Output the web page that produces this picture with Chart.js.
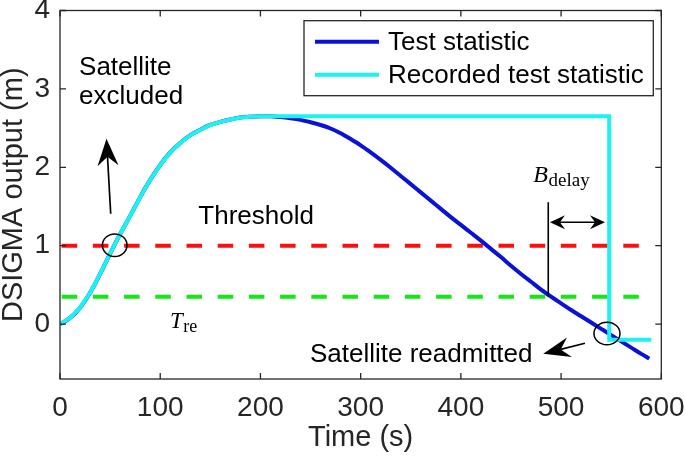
<!DOCTYPE html>
<html><head><meta charset="utf-8">
<script src="https://cdn.jsdelivr.net/npm/chart.js@4/dist/chart.umd.min.js"></script>
<style>html,body{margin:0;padding:0;background:#fff;}#wrap{width:685px;height:458px;position:relative;}</style>
</head><body><div id="wrap"><canvas id="c"></canvas></div>
<script>
// ---- data ----
const timeS = [0,10,20,30,40,50,60,70,80,90,100,110,120,130,140,150,160,170,180,190,200,210,220,230,240,250,260,270,280,290,300,310,320,330,340,350,360,370,380,390,400,410,420,430,440,450,460,470,480,490,500,510,520,530,540,550,560,570,580,588];
const testStat = [0,0.08,0.21,0.40,0.64,0.90,1.15,1.38,1.62,1.84,2.03,2.19,2.31,2.41,2.48,2.54,2.58,2.61,2.635,2.645,2.65,2.65,2.64,2.625,2.605,2.575,2.54,2.495,2.435,2.36,2.28,2.19,2.095,1.995,1.89,1.785,1.68,1.575,1.47,1.365,1.265,1.165,1.065,0.96,0.855,0.745,0.64,0.54,0.44,0.35,0.265,0.18,0.10,0.02,-0.06,-0.14,-0.22,-0.30,-0.38,-0.44];
const recTime = [0,10,20,30,40,50,60,70,80,90,100,110,120,130,140,150,160,170,180,190,200,548,548,590];
const recStat = [0,0.08,0.21,0.40,0.64,0.90,1.15,1.38,1.62,1.84,2.03,2.19,2.31,2.41,2.48,2.54,2.58,2.61,2.635,2.645,2.65,2.65,-0.2,-0.2];
const thresholdTime = [0,590];
const exclusionThreshold = [1,1];
const readmissionThreshold = [0.35,0.35];
const xTickValues = [0,100,200,300,400,500,600];
const yTickValues = [0,1,2,3,4];
const seriesNames = ['Test statistic','Recorded test statistic'];

function pts(xs, ys){ return xs.map((x,i)=>({x:x,y:ys[i]})); }

const AX = '#262626';
const SANS = '"Liberation Sans", Arial, Helvetica, sans-serif';
const SERIF = '"Liberation Serif", "Times New Roman", serif';

function arrowHead(ctx, tx, ty, fx, fy, len, hw, notch){
  const dx = tx-fx, dy = ty-fy, L = Math.hypot(dx,dy);
  const ux = dx/L, uy = dy/L, px = -uy, py = ux;
  ctx.beginPath();
  ctx.moveTo(tx,ty);
  ctx.lineTo(tx-ux*len+px*hw, ty-uy*len+py*hw);
  ctx.lineTo(tx-ux*notch, ty-uy*notch);
  ctx.lineTo(tx-ux*len-px*hw, ty-uy*len-py*hw);
  ctx.closePath();
  ctx.fill();
}
function arrow(ctx, fx, fy, tx, ty, len, hw, notch, lw){
  const dx = tx-fx, dy = ty-fy, L = Math.hypot(dx,dy);
  const ux = dx/L, uy = dy/L;
  ctx.lineWidth = lw;
  ctx.beginPath(); ctx.moveTo(fx,fy); ctx.lineTo(tx-ux*notch, ty-uy*notch); ctx.stroke();
  arrowHead(ctx, tx, ty, fx, fy, len, hw, notch);
}

const decor = {
  id:'decor',
  afterDatasetsDraw(chart){
    const {ctx, chartArea:a, scales:{x,y}} = chart;
    const X = v=>x.getPixelForValue(v), Y = v=>y.getPixelForValue(v);
    ctx.save();
    // box & inward ticks
    ctx.strokeStyle = AX; ctx.lineWidth = 1.3;
    ctx.strokeRect(a.left, a.top, a.right-a.left, a.bottom-a.top);
    ctx.beginPath();
    x.ticks.forEach(t=>{ const p = X(t.value);
      ctx.moveTo(p,a.bottom); ctx.lineTo(p,a.bottom-6);
      ctx.moveTo(p,a.top); ctx.lineTo(p,a.top+6); });
    y.ticks.forEach(t=>{ const p = Y(t.value);
      ctx.moveTo(a.left,p); ctx.lineTo(a.left+6,p);
      ctx.moveTo(a.right,p); ctx.lineTo(a.right-6,p); });
    ctx.stroke();

    // annotations
    ctx.fillStyle = '#000'; ctx.strokeStyle = '#000';
    ctx.font = '26px '+SANS; ctx.textBaseline = 'alphabetic'; ctx.textAlign = 'left';
    ctx.fillText('Satellite', X(19), Y(3.18));
    ctx.fillText('excluded', X(19), Y(2.81));
    ctx.fillText('Threshold', X(138), Y(1.28));
    ctx.fillText('Satellite readmitted', X(249.4), Y(-0.477));
    // T_re
    ctx.font = 'italic 23px '+SERIF;
    ctx.fillText('T', X(109.8), Y(-0.047));
    let w = ctx.measureText('T').width;
    ctx.font = '18px '+SERIF;
    ctx.fillText('re', X(109.8)+w+0.5, Y(-0.047)+4);
    // B_delay
    ctx.font = 'italic 24px '+SERIF;
    ctx.fillText('B', X(472.3), Y(1.81));
    w = ctx.measureText('B').width;
    ctx.font = '19px '+SERIF;
    ctx.fillText('delay', X(472.3)+w+0.5, Y(1.81)+3.5);

    // circles
    ctx.lineWidth = 1.5;
    ctx.beginPath(); ctx.ellipse(X(54.6), Y(1.006), 12.3, 11.3, 0, 0, Math.PI*2); ctx.stroke();
    ctx.beginPath(); ctx.ellipse(X(545.8), Y(-0.12), 13, 11.3, 0, 0, Math.PI*2); ctx.stroke();

    // arrows
    arrow(ctx, X(50.6), Y(1.407), X(46.4), Y(2.364), 27, 10.5, 18, 1.7);
    arrow(ctx, X(523.8), Y(-0.244), X(482.2), Y(-0.379), 27, 10, 18, 1.7);
    // B_delay marker line
    ctx.lineWidth = 1.6;
    ctx.beginPath(); ctx.moveTo(X(487.2), Y(1.555)); ctx.lineTo(X(487.2), Y(0.35)); ctx.stroke();
    // double arrow
    const ya = Y(1.30), xa = X(488.9), xb = X(543.8);
    ctx.lineWidth = 1.6;
    ctx.beginPath(); ctx.moveTo(xa+10, ya); ctx.lineTo(xb-10, ya); ctx.stroke();
    arrowHead(ctx, xa, ya, xb, ya, 15, 7, 10);
    arrowHead(ctx, xb, ya, xa, ya, 15, 7, 10);

    // legend
    const lx = a.left+244, ly = a.top+10.2, lw = 349.3, lh = 75;
    ctx.fillStyle = '#fff'; ctx.fillRect(lx, ly, lw, lh);
    ctx.strokeStyle = AX; ctx.lineWidth = 1.3; ctx.strokeRect(lx, ly, lw, lh);
    const cols = [chart.data.datasets[1].borderColor, chart.data.datasets[0].borderColor];
    const rows = [ly+21, ly+54];
    ctx.font = '26px '+SANS; ctx.textBaseline = 'middle'; ctx.fillStyle = '#000';
    seriesNames.forEach((n,i)=>{
      ctx.strokeStyle = cols[i]; ctx.lineWidth = 4;
      ctx.beginPath(); ctx.moveTo(lx+11, rows[i]); ctx.lineTo(lx+75, rows[i]); ctx.stroke();
      ctx.fillText(n, lx+84, rows[i]+1);
    });
    ctx.restore();
  }
};

new Chart(document.getElementById('c'), {
  type:'line',
  data:{ datasets:[
    {label:seriesNames[1], data:pts(recTime, recStat), borderColor:'#1cf2f2', borderWidth:4, pointRadius:0, tension:0, order:0},
    {label:seriesNames[0], data:pts(timeS, testStat), borderColor:'#0b12d6', borderWidth:4, pointRadius:0, cubicInterpolationMode:'monotone', order:1},
    {label:'Threshold', data:pts(thresholdTime, exclusionThreshold), borderColor:'#ff0d0d', borderWidth:4, borderDash:[15.5,15.7], borderDashOffset:-1.7, pointRadius:0, order:2},
    {label:'T_re', data:pts(thresholdTime, readmissionThreshold), borderColor:'#12e812', borderWidth:4, borderDash:[15.5,15.7], borderDashOffset:-1.7, pointRadius:0, order:2}
  ]},
  options:{
    responsive:true, maintainAspectRatio:false, animation:false,
    layout:{padding:{top:10.5, right:23.7, left:0, bottom:0}},
    plugins:{legend:{display:false}, tooltip:{enabled:false}},
    scales:{
      x:{type:'linear', min:0, max:600,
        afterBuildTicks:s=>{s.ticks = xTickValues.map(v=>({value:v}));},
        afterFit:s=>{s.height = 79; s.paddingLeft = 0; s.paddingRight = 0;},
        grid:{display:false, drawTicks:false}, border:{display:false},
        ticks:{color:AX, font:{family:SANS, size:28}, padding:12, maxRotation:0},
        title:{display:true, text:'Time (s)', color:AX, font:{family:SANS, size:29, lineHeight:1}, padding:{top:0,bottom:6}}
      },
      y:{type:'linear', min:-0.7, max:4,
        afterBuildTicks:s=>{s.ticks = yTickValues.map(v=>({value:v}));},
        afterFit:s=>{s.width = 60; s.paddingTop = 0; s.paddingBottom = 0;},
        grid:{display:false, drawTicks:false}, border:{display:false},
        ticks:{color:AX, font:{family:SANS, size:28}, padding:10},
        title:{display:true, text:'DSIGMA output (m)', color:AX, font:{family:SANS, size:29, lineHeight:1}, padding:{top:-1,bottom:0}}
      }
    }
  },
  plugins:[decor]
});
</script></body></html>
